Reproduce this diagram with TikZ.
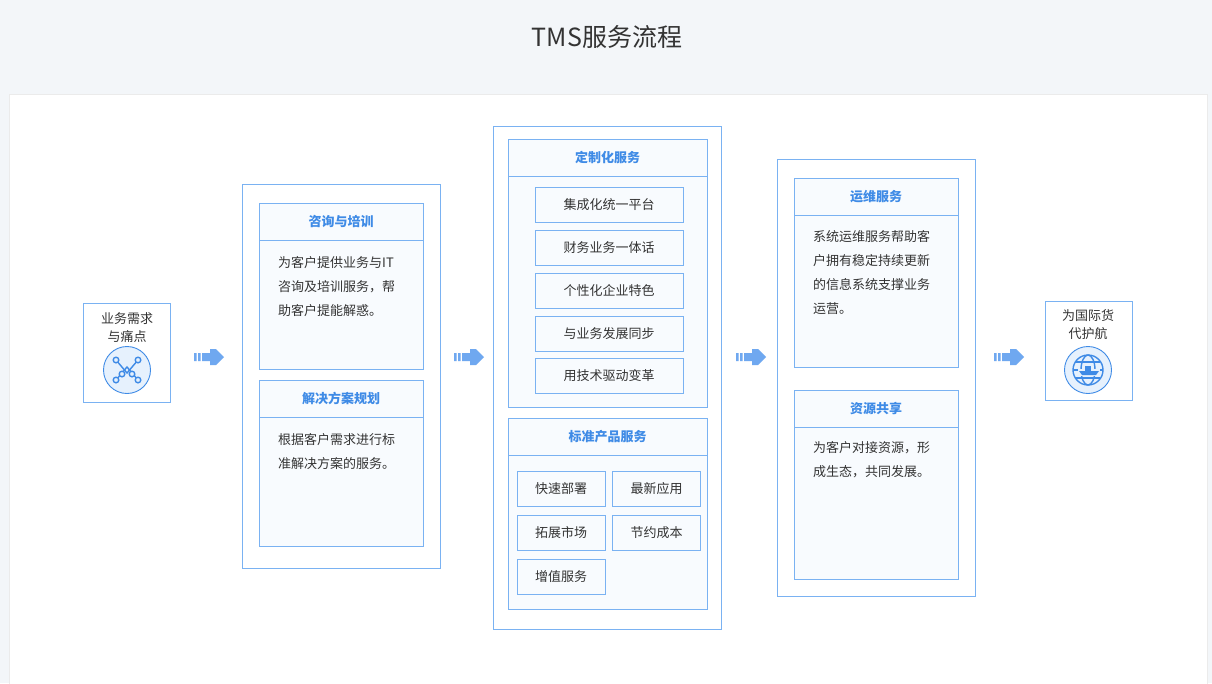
\documentclass[tikz,border=0pt]{standalone}
\usepackage{fontspec}
\setmainfont{Noto Sans CJK SC}
\begin{document}
\begin{tikzpicture}[x=1pt,y=-1pt,
 bd/.style={draw=blu,line width=0.8pt},
 box/.style={bd,fill=lite},
 hd/.style={font=\fontsize{13}{13}\selectfont\bfseries,text=hblu},
 tx/.style={font=\fontsize{13}{24}\selectfont,text=txt,align=left,anchor=north west,inner sep=0pt},
 it/.style={box,font=\fontsize{13}{13}\selectfont,text=txt},
 ar/.style={fill=ablu}]
\definecolor{blu}{HTML}{7AB2F2}
\definecolor{lite}{HTML}{F8FBFE}
\definecolor{hblu}{HTML}{3F8BE6}
\definecolor{txt}{HTML}{333333}
\definecolor{ablu}{HTML}{6FA8F0}
\definecolor{bgc}{HTML}{F3F6F9}
\definecolor{icf}{HTML}{E6F1FD}
\useasboundingbox (0,0) rectangle (1212,683);
\fill[bgc] (0,0) rectangle (1212,683);
\fill[white] (9,94) rectangle (1207,690);
\draw[draw=black!8] (9,94) rectangle (1207,690);
\node[font=\fontsize{25}{25}\selectfont,text=txt] (title) at (607,37) {TMS服务流程};
% left
\draw[bd,fill=white] (83,303) rectangle (170,402);
\node[font=\fontsize{13}{18}\selectfont,text=txt,align=center] (need) at (127,328) {业务需求\\与痛点};
\node[circle,draw=hblu,line width=0.9pt,fill=icf,minimum size=47pt] (ic1) at (127,370) {};
\begin{scope}[hblu,line width=1.4pt]
\draw ([shift={(-11,-10)}]ic1.center)--([shift={(0,3)}]ic1.center)--([shift={(11,-10)}]ic1.center);
\draw ([shift={(-11,10)}]ic1.center)--([shift={(0,-3)}]ic1.center)--([shift={(11,10)}]ic1.center);
\foreach \p in {{(-11,-10)},{(11,-10)},{(-11,10)},{(11,10)},{(-5,4)},{(5,4)}} \draw[fill=icf] ([shift=\p]ic1.center) circle [radius=2.8pt];
\end{scope}
% arrows
\foreach \x/\n in {208/a1,468/a2,750/a3,1008/a4}{
 \coordinate (\n) at (\x,357);
 \fill[ablu] (\x-14,353) rectangle ++(2.5,8) (\x-10,353) rectangle ++(2.5,8) (\x-6,353) rectangle ++(8,8);
 \fill[ablu] (\x+2,349)--(\x+8,349)--(\x+16,357)--(\x+8,365)--(\x+2,365)--cycle;
}
% column 2
\draw[bd,fill=white] (242,184) rectangle (440,568);
\draw[box] (259,203) rectangle (423,369); \draw[bd] (259,240)--(423,240);
\node[hd] (h1) at (341,221.5) {咨询与培训};
\node[tx] (t1) at (278,256) {为客户提供业务与IT\\咨询及培训服务，帮\\助客户提能解惑。};
\draw[box] (259,380) rectangle (423,546); \draw[bd] (259,417)--(423,417);
\node[hd] (h2) at (341,398.5) {解决方案规划};
\node[tx] (t2) at (278,433) {根据客户需求进行标\\准解决方案的服务。};
% column 3
\draw[bd,fill=white] (493,126) rectangle (721,629);
\draw[box] (508,139) rectangle (707,407); \draw[bd] (508,176)--(707,176);
\node[hd] (h3) at (607.5,157.5) {定制化服务};
\foreach \y/\t/\n in {187/集成化统一平台/c1,230/财务业务一体话/c2,273/个性化企业特色/c3,316/与业务发展同步/c4,358/用技术驱动变革/c5}{
 \node[it,minimum width=148pt,minimum height=35pt] (\n) at (609,\y+17.5) {\t};}
\draw[box] (508,418) rectangle (707,609); \draw[bd] (508,455)--(707,455);
\node[hd] (h4) at (607.5,436.5) {标准产品服务};
\foreach \x/\y/\t/\n in {561/488.5/快速部署/s1,656.5/488.5/最新应用/s2,561/532.5/拓展市场/s3,656.5/532.5/节约成本/s4,561/576.5/增值服务/s5}{
 \node[it,minimum width=88pt,minimum height=35pt] (\n) at (\x,\y) {\t};}
% column 4
\draw[bd,fill=white] (777,159) rectangle (975,596);
\draw[box] (794,178) rectangle (958,367); \draw[bd] (794,215)--(958,215);
\node[hd] (h5) at (876,196.5) {运维服务};
\node[tx] (t5) at (813,230) {系统运维服务帮助客\\户拥有稳定持续更新\\的信息系统支撑业务\\运营。};
\draw[box] (794,390) rectangle (958,579); \draw[bd] (794,427)--(958,427);
\node[hd] (h6) at (876,408.5) {资源共享};
\node[tx] (t6) at (813,441) {为客户对接资源，形\\成生态，共同发展。};
% right
\draw[bd,fill=white] (1045,301) rectangle (1132,400);
\node[font=\fontsize{13}{18}\selectfont,text=txt,align=center] (goal) at (1088,325) {为国际货\\代护航};
\node[circle,draw=hblu,line width=0.9pt,fill=icf,minimum size=47pt] (ic2) at (1088,370) {};
\begin{scope}[hblu,line width=1.4pt]
\draw (ic2.center) circle [radius=15pt];
\draw (ic2.center) ellipse [x radius=7pt,y radius=15pt];
\draw ([shift={(-15,0)}]ic2.center)--([shift={(15,0)}]ic2.center);
\draw ([shift={(-12,-8)}]ic2.center)--([shift={(12,-8)}]ic2.center);
\draw ([shift={(-12,8)}]ic2.center)--([shift={(12,8)}]ic2.center);
\fill[icf] ([shift={(-10,-1)}]ic2.center) rectangle ([shift={(12,6)}]ic2.center);
\fill ([shift={(-9,1)}]ic2.center)--([shift={(11,1)}]ic2.center)--([shift={(8,5)}]ic2.center)--([shift={(-6,5)}]ic2.center)--cycle;
\fill ([shift={(-3,-4)}]ic2.center) rectangle ([shift={(3,1)}]ic2.center);
\end{scope}
\end{tikzpicture}
\end{document}
